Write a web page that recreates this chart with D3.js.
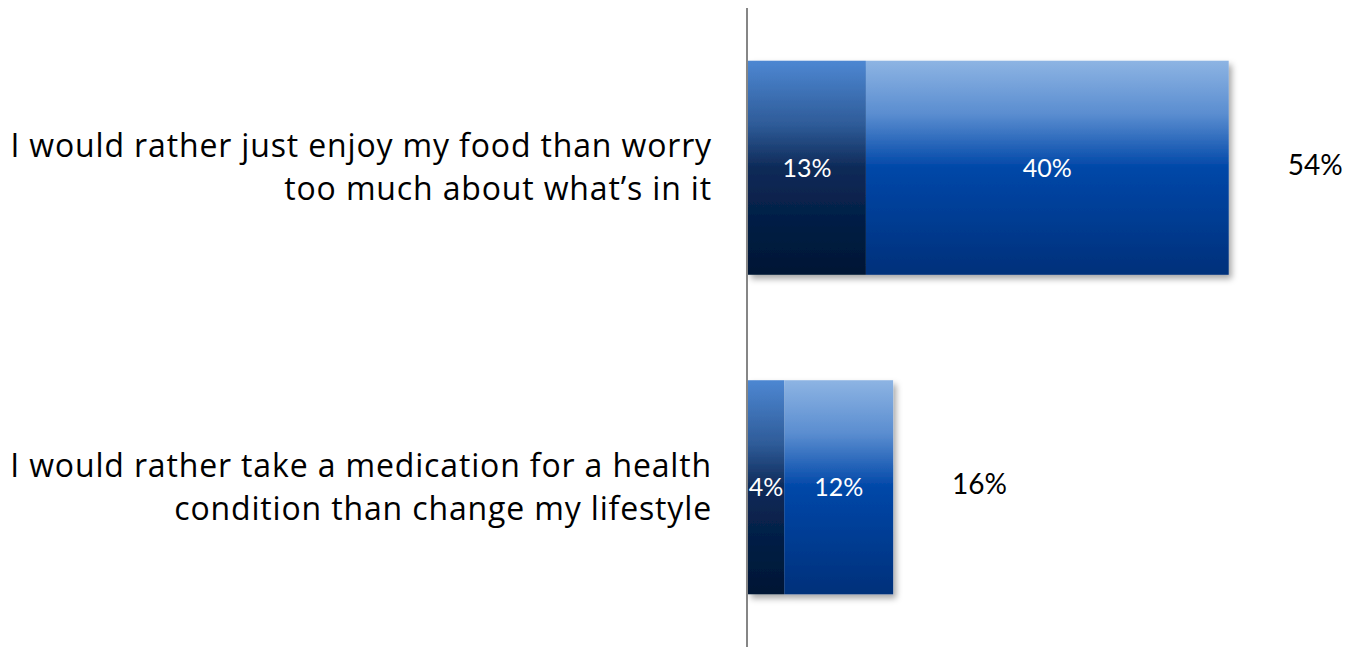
<!DOCTYPE html>
<html>
<head>
<meta charset="utf-8">
<script src="https://cdn.jsdelivr.net/npm/d3@7"></script>
<style>
  html, body { margin: 0; padding: 0; background: #ffffff; }
  svg { display: block; }
  text { font-family: Lato, "Open Sans", sans-serif; }
  text.cat { font-family: "Open Sans", sans-serif; letter-spacing: 0.85px; }
</style>
</head>
<body>
<script>
// Survey statements (each split over two lines)
const categories = [
  "I would rather just enjoy my food than worry|too much about what\u2019s in it",
  "I would rather take a medication for a health|condition than change my lifestyle"
];
// "Strongly agree" and "Somewhat agree" shares, in percent
const stronglyAgree = [13, 4];
const somewhatAgree = [40, 12];
// Net agree totals as reported
const totals = [54, 16];

const W = 1352, H = 647;
const svg = d3.select("body").append("svg").attr("width", W).attr("height", H);

const axisX = 747;
const x = d3.scaleLinear().domain([0, 60]).range([axisX + 1, axisX + 1 + 60 * 9.07]);
const y = d3.scaleBand().domain(categories).range([8, 647]).paddingInner(0.33).paddingOuter(0.165);

const defs = svg.append("defs");

function grad(id, stops) {
  const g = defs.append("linearGradient").attr("id", id)
    .attr("x1", 0).attr("y1", 0).attr("x2", 0).attr("y2", 1);
  stops.forEach(([o, c]) => g.append("stop").attr("offset", o).attr("stop-color", c));
}
grad("gStrong", [[0, "#4d87d2"], [0.3, "#2e5b98"], [0.5, "#0e2a58"], [0.75, "#031e45"], [1, "#001634"]]);
grad("gSome", [[0, "#8db4e3"], [0.25, "#5a8dd0"], [0.5, "#0047a8"], [0.75, "#003c92"], [1, "#00307a"]]);

const shadow = defs.append("filter").attr("id", "shadow")
  .attr("x", "-10%").attr("y", "-10%").attr("width", "130%").attr("height", "130%");
shadow.append("feDropShadow").attr("dx", 3).attr("dy", 4).attr("stdDeviation", 3)
  .attr("flood-color", "#000").attr("flood-opacity", 0.35);

const rows = categories.map((c, i) => ({ cat: c, a: stronglyAgree[i], b: somewhatAgree[i], total: totals[i] }));

// Bars with shadow
const bars = svg.append("g");
rows.forEach(d => {
  const g = bars.append("g").attr("filter", "url(#shadow)");
  g.append("rect")
    .attr("x", x(0)).attr("y", y(d.cat))
    .attr("width", x(d.a) - x(0)).attr("height", y.bandwidth())
    .attr("fill", "url(#gStrong)");
  g.append("rect")
    .attr("x", x(d.a)).attr("y", y(d.cat))
    .attr("width", x(d.a + d.b) - x(d.a)).attr("height", y.bandwidth())
    .attr("fill", "url(#gSome)");
});

// Segment value labels
const labels = svg.append("g").attr("fill", "#ffffff").attr("font-size", 25).attr("text-anchor", "middle");
rows.forEach(d => {
  const cy = y(d.cat) + y.bandwidth() / 2;
  labels.append("text").attr("x", (x(0) + x(d.a)) / 2).attr("y", cy).attr("dy", "0.35em").text(d.a + "%");
  labels.append("text").attr("x", (x(d.a) + x(d.a + d.b)) / 2).attr("y", cy).attr("dy", "0.35em").text(d.b + "%");
});

// Totals to the right of each bar
svg.append("g").selectAll("text").data(rows).join("text")
  .attr("x", d => x(d.a + d.b) + 59)
  .attr("y", d => y(d.cat) + y.bandwidth() / 2 - 3)
  .attr("dy", "0.35em")
  .attr("font-size", 28).attr("fill", "#000")
  .text(d => d.total + "%");

// Vertical axis line
svg.append("line")
  .attr("x1", axisX).attr("x2", axisX).attr("y1", 8).attr("y2", 647)
  .attr("stroke", "#868686").attr("stroke-width", 2);

// Category labels, right aligned
const cats = svg.append("g").attr("text-anchor", "end").attr("font-size", 32).attr("fill", "#000");
rows.forEach(d => {
  const cy = y(d.cat) + y.bandwidth() / 2;
  const lines = d.cat.split("|");
  const t = cats.append("text").attr("class", "cat").attr("y", cy);
  lines.forEach((ln, j) => {
    t.append("tspan").attr("x", 712)
      .attr("y", cy + (j - (lines.length - 1) / 2) * 43)
      .attr("dy", "0.35em").text(ln);
  });
});
</script>
</body>
</html>
